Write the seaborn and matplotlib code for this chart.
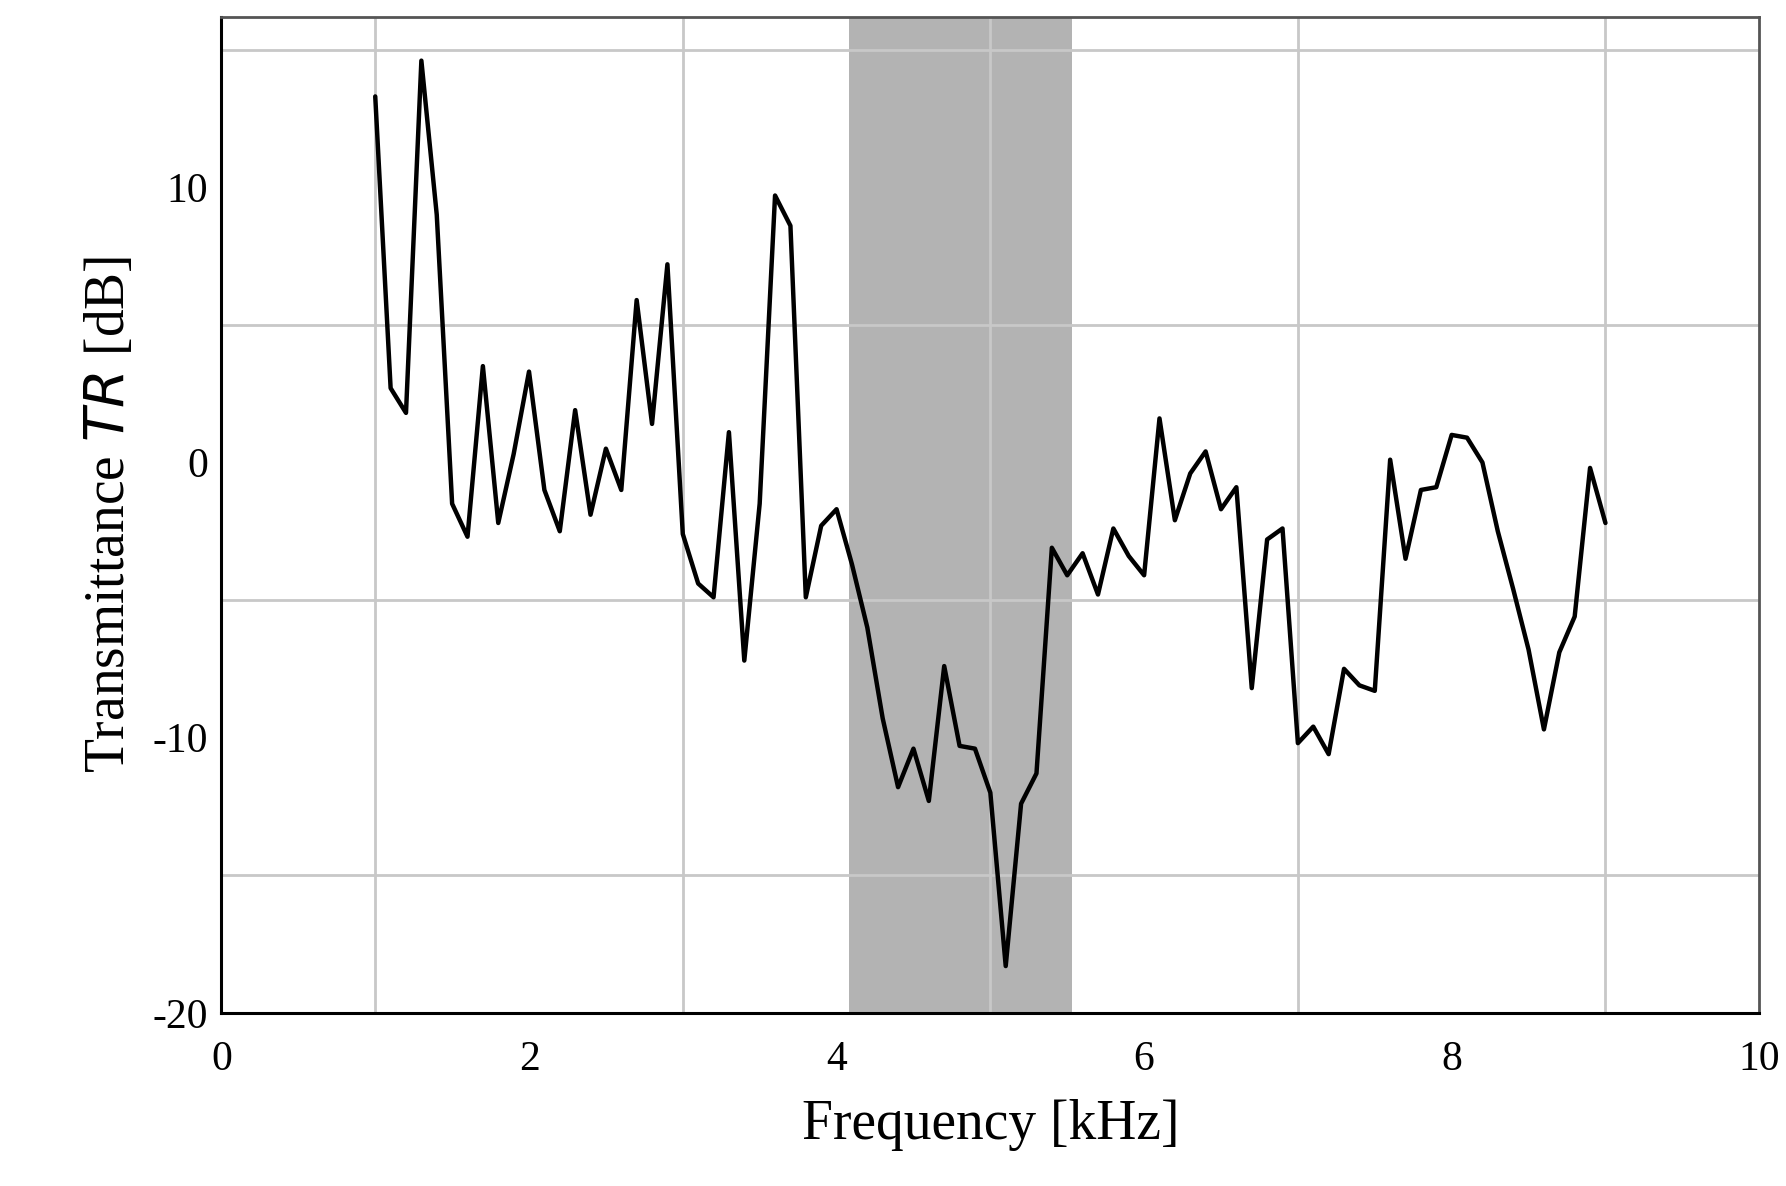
import numpy as np
import pandas as pd
import matplotlib
matplotlib.use('Agg')
import matplotlib.pyplot as plt
import seaborn as sns

freq = np.round(np.arange(1.0, 9.01, 0.1), 1)
tr = [13.3, 2.7, 1.8, 14.6, 9.0, -1.5, -2.7, 3.5, -2.2, 0.3,
      3.3, -1.0, -2.5, 1.9, -1.9, 0.5, -1.0, 5.9, 1.4, 7.2,
      -2.6, -4.4, -4.9, 1.1, -7.2, -1.5, 9.7, 8.6, -4.9, -2.3,
      -1.7, -3.7, -6.0, -9.3, -11.8, -10.4, -12.3, -7.4, -10.3, -10.4,
      -12.0, -18.3, -12.4, -11.3, -3.1, -4.1, -3.3, -4.8, -2.4, -3.4,
      -4.1, 1.6, -2.1, -0.4, 0.4, -1.7, -0.9, -8.2, -2.8, -2.4,
      -10.2, -9.6, -10.6, -7.5, -8.1, -8.3, 0.1, -3.5, -1.0, -0.9,
      1.0, 0.9, 0.0, -2.5, -4.6, -6.8, -9.7, -6.9, -5.6, -0.2,
      -2.2]
band = (4.08, 5.53)
xticks = [0, 2, 4, 6, 8, 10]
yticks = [-20, -10, 0, 10]

df = pd.DataFrame({'f': freq, 'tr': tr})

sns.set_style('white')
plt.rcParams['font.family'] = ['Liberation Serif', 'DejaVu Serif']
plt.rcParams['text.color'] = 'black'
plt.rcParams['axes.labelcolor'] = 'black'
plt.rcParams['xtick.color'] = 'black'
plt.rcParams['ytick.color'] = 'black'

fig = plt.figure(figsize=(17.86, 11.86), dpi=100)
ax = fig.add_axes([0.124, 0.146, 0.861, 0.84])
ax.axvspan(band[0], band[1], color='#b3b3b3', zorder=0, lw=0)
ax.set_xticks(np.arange(0, 11, 1), minor=True)
ax.set_yticks(np.arange(-20, 16, 5), minor=True)
ax.grid(which='minor', color='#c8c8c8', lw=2.0, zorder=1)
ax.set_axisbelow(True)
sns.lineplot(data=df, x='f', y='tr', color='black', lw=3.2, ax=ax, zorder=3)

ax.set_xlim(0, 10)
ax.set_ylim(-20, 16.2)
ax.set_xticks(xticks)
ax.set_yticks(yticks)
ax.set_yticklabels([str(v) for v in yticks])
ax.tick_params(which='both', direction='out', length=6, width=1.5, labelsize=30,
               color='black', labelcolor='black')
ax.tick_params(axis='x', pad=14)
for s in ['left', 'bottom']:
    ax.spines[s].set_linewidth(2.2)
    ax.spines[s].set_color('black')
for s in ['top', 'right']:
    ax.spines[s].set_linewidth(2.0)
    ax.spines[s].set_color('#555555')
ax.set_xlabel('Frequency [kHz]', fontsize=40, labelpad=14)
ax.set_ylabel('Transmittance $\\it{TR}$ [dB]', fontsize=40, labelpad=12)

fig.savefig('out.png', dpi=100)
